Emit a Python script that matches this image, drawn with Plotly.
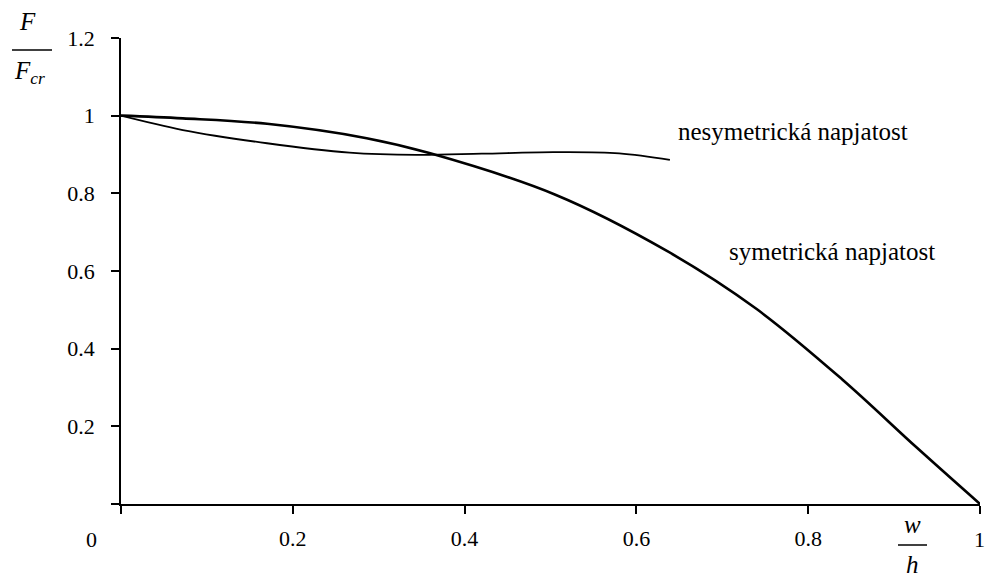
import plotly.graph_objects as go

# Data
sym_w = [0.0, 0.072, 0.17, 0.286, 0.36, 0.505, 0.636, 0.74, 0.84, 0.926, 1.0]
sym_f = [1.0, 0.993, 0.979, 0.942, 0.903, 0.797, 0.651, 0.502, 0.32, 0.146, 0.0]

nesym_w = [0.0, 0.072, 0.17, 0.266, 0.344, 0.42, 0.503, 0.58, 0.639]
nesym_f = [1.0, 0.963, 0.929, 0.905, 0.899, 0.902, 0.906, 0.903, 0.886]

x_ticks = [0, 0.2, 0.4, 0.6, 0.8, 1]
x_ticktext = [" ", "0.2", "0.4", "0.6", "0.8", " "]
y_ticks = [0, 0.2, 0.4, 0.6, 0.8, 1, 1.2]
y_ticktext = [" ", "0.2", "0.4", "0.6", "0.8", "1", "1.2"]

# body margin is removed by a post script, so figure pixels equal page pixels
W, H = 985, 577
L, R, T, B = 121, 5, 38, 73
PW, PH = W - L - R, H - T - B

def px(x):
    return (x - L) / PW

def py(y):
    return (H - B - y) / PH

FONT = "Liberation Serif"

fig = go.Figure()
fig.add_trace(go.Scatter(x=sym_w, y=sym_f, mode="lines", line=dict(color="black", width=2.6, shape="spline"),
                         showlegend=False, hoverinfo="skip", cliponaxis=False))
fig.add_trace(go.Scatter(x=nesym_w, y=nesym_f, mode="lines", line=dict(color="black", width=1.8, shape="spline"),
                         showlegend=False, hoverinfo="skip", cliponaxis=False))

axis_common = dict(showgrid=False, zeroline=False, showline=True, linecolor="black", linewidth=1.5,
                   ticks="outside", ticklen=8, tickwidth=1.5, tickcolor="black", automargin=False,
                   ticklabeloverflow="allow",
                   tickfont=dict(family=FONT, size=22, color="black"))

fig.update_xaxes(range=[0, 1], tickvals=x_ticks, ticktext=x_ticktext, ticklabelstandoff=6, **axis_common)
fig.update_yaxes(range=[0, 1.2], tickvals=y_ticks, ticktext=y_ticktext, ticklabelstandoff=12, **axis_common)

annotations = [
    dict(x=px(91), y=py(539), text="0", size=22),
    dict(x=px(979), y=py(539), text="1", size=22),
    dict(x=px(676), y=py(131), text="nesymetrická napjatost", xanchor="left"),
    dict(x=px(727), y=py(252), text="symetrická napjatost", xanchor="left"),
    dict(x=px(27), y=py(22), text="<i>F</i>"),
    dict(x=px(29), y=py(73), text="<i>F</i><sub><i>cr</i></sub>"),
    dict(x=px(912), y=py(524), text="<i>w</i>"),
    dict(x=px(912), y=py(564), text="<i>h</i>"),
]
for a in annotations:
    size = a.pop("size", 25)
    xa = a.pop("xanchor", "center")
    fig.add_annotation(xref="paper", yref="paper", showarrow=False, xanchor=xa, yanchor="middle",
                       font=dict(family=FONT, size=size, color="black"), **a)

fig.add_shape(type="line", xref="paper", yref="paper", x0=px(12), x1=px(52), y0=py(50), y1=py(50),
              line=dict(color="black", width=1.5))
fig.add_shape(type="line", xref="paper", yref="paper", x0=px(898), x1=px(927), y0=py(545), y1=py(545),
              line=dict(color="black", width=1.5))

fig.update_layout(width=W, height=H, margin=dict(l=L, r=R, t=T, b=B),
                  paper_bgcolor="white", plot_bgcolor="white")

fig.write_html("out.html", config={"displayModeBar": False},
               post_script="document.body.style.margin='0';document.body.style.overflow='hidden';")
